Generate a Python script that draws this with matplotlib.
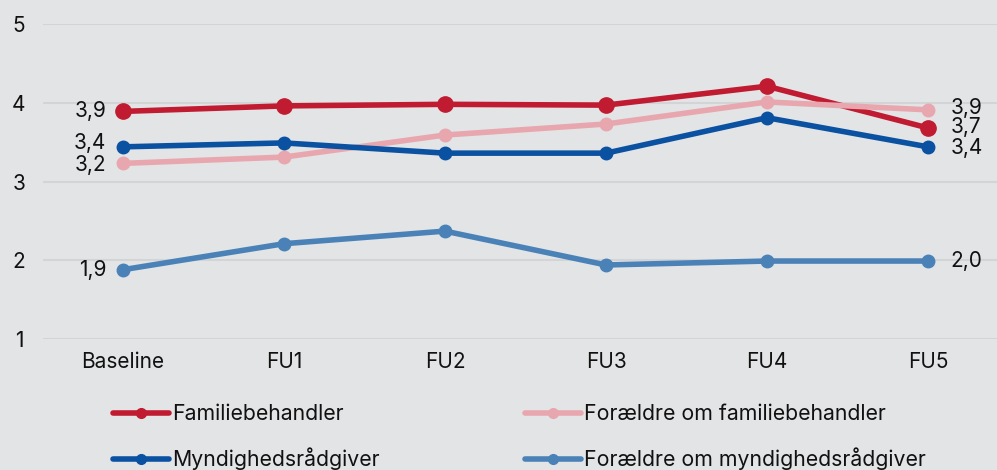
import matplotlib
matplotlib.use("Agg")
import matplotlib.pyplot as plt

categories = ["Baseline", "FU1", "FU2", "FU3", "FU4", "FU5"]
familiebehandler = [3.89, 3.96, 3.98, 3.97, 4.21, 3.68]
foraeldre_familie = [3.23, 3.31, 3.59, 3.73, 4.01, 3.91]
myndighed = [3.44, 3.49, 3.36, 3.36, 3.81, 3.44]
foraeldre_myndighed = [1.88, 2.21, 2.37, 1.94, 1.99, 1.99]
yticks = [1, 2, 3, 4, 5]

series = [
    ("Familiebehandler", familiebehandler, "#c01b30", 11),
    ("Forældre om familiebehandler", foraeldre_familie, "#e8a7ae", 9),
    ("Myndighedsrådgiver", myndighed, "#0a51a1", 9),
    ("Forældre om myndighedsrådgiver", foraeldre_myndighed, "#4a82b8", 9),
]

plt.rcParams['font.family'] = ['Inter', 'DejaVu Sans']
FS = 15
bg = "#e3e4e6"
fig = plt.figure(figsize=(9.97, 4.70), dpi=100, facecolor=bg)
left = 42.5 / 997
ax = fig.add_axes([left, 1 - 339 / 470, 1 - left, (339 - 24) / 470])
ax.set_facecolor(bg)

x = list(range(len(categories)))
handles = []
for name, vals, col, ms in series:
    h, = ax.plot(x, vals, color=col, lw=4, marker="o", ms=ms, label=name,
                 solid_capstyle="round", zorder=3)
    handles.append(h)

ax.set_xlim(-0.5, (997 - 42.5) / 161 - 0.5)
ax.set_ylim(1, 5)
ax.set_yticks(yticks)
ax.set_yticklabels([str(t) for t in yticks])
ax.set_xticks(x)
ax.set_xticklabels(categories)
ax.grid(axis="y", color="#d3d4d6", lw=1.5)
ax.set_axisbelow(True)
for s in ax.spines.values():
    s.set_visible(False)
ax.tick_params(axis="both", length=0, labelsize=FS, colors="#111111")
ax.tick_params(axis="x", pad=9)
for lab in ax.get_yticklabels():
    lab.set_horizontalalignment("center")
ax.tick_params(axis="y", pad=17)

def fmt(v):
    return f"{v:.1f}".replace(".", ",")

for name, vals, col, ms in series:
    v = vals[0]
    dy = 0
    if name == "Myndighedsrådgiver":
        dy = 3
    if name == "Forældre om familiebehandler":
        dy = -1
    ax.annotate(fmt(v), (0, v), xytext=(-12, dy), textcoords="offset points",
                ha="right", va="center", fontsize=FS, color="#111111")
for name, vals, col, ms in series:
    v = vals[-1]
    dy = 0
    if name == "Forældre om familiebehandler":
        dy = 1
    if name == "Familiebehandler":
        dy = 1
    if name == "Myndighedsrådgiver":
        dy = -1
    ax.annotate(fmt(v), (5, v), xytext=(16, dy), textcoords="offset points",
                ha="left", va="center", fontsize=FS, color="#111111")

leg = {}
for name, vals, col, ms in series:
    leg[name] = plt.Line2D([], [], color=col, lw=4, marker="o", ms=7,
                           solid_capstyle="round")
order = ["Familiebehandler", "Myndighedsrådgiver",
         "Forældre om familiebehandler", "Forældre om myndighedsrådgiver"]
fig.legend([leg[n] for n in order], order, ncol=2,
           loc="upper left", bbox_to_anchor=(113 / 997, 1 - 404 / 470),
           frameon=False, fontsize=15.3, handlelength=2.65, handletextpad=0.15,
           columnspacing=6.8, labelspacing=1.1, borderaxespad=0, borderpad=0,
           labelcolor="#111111")

fig.savefig("out.png", dpi=100, facecolor=bg)
